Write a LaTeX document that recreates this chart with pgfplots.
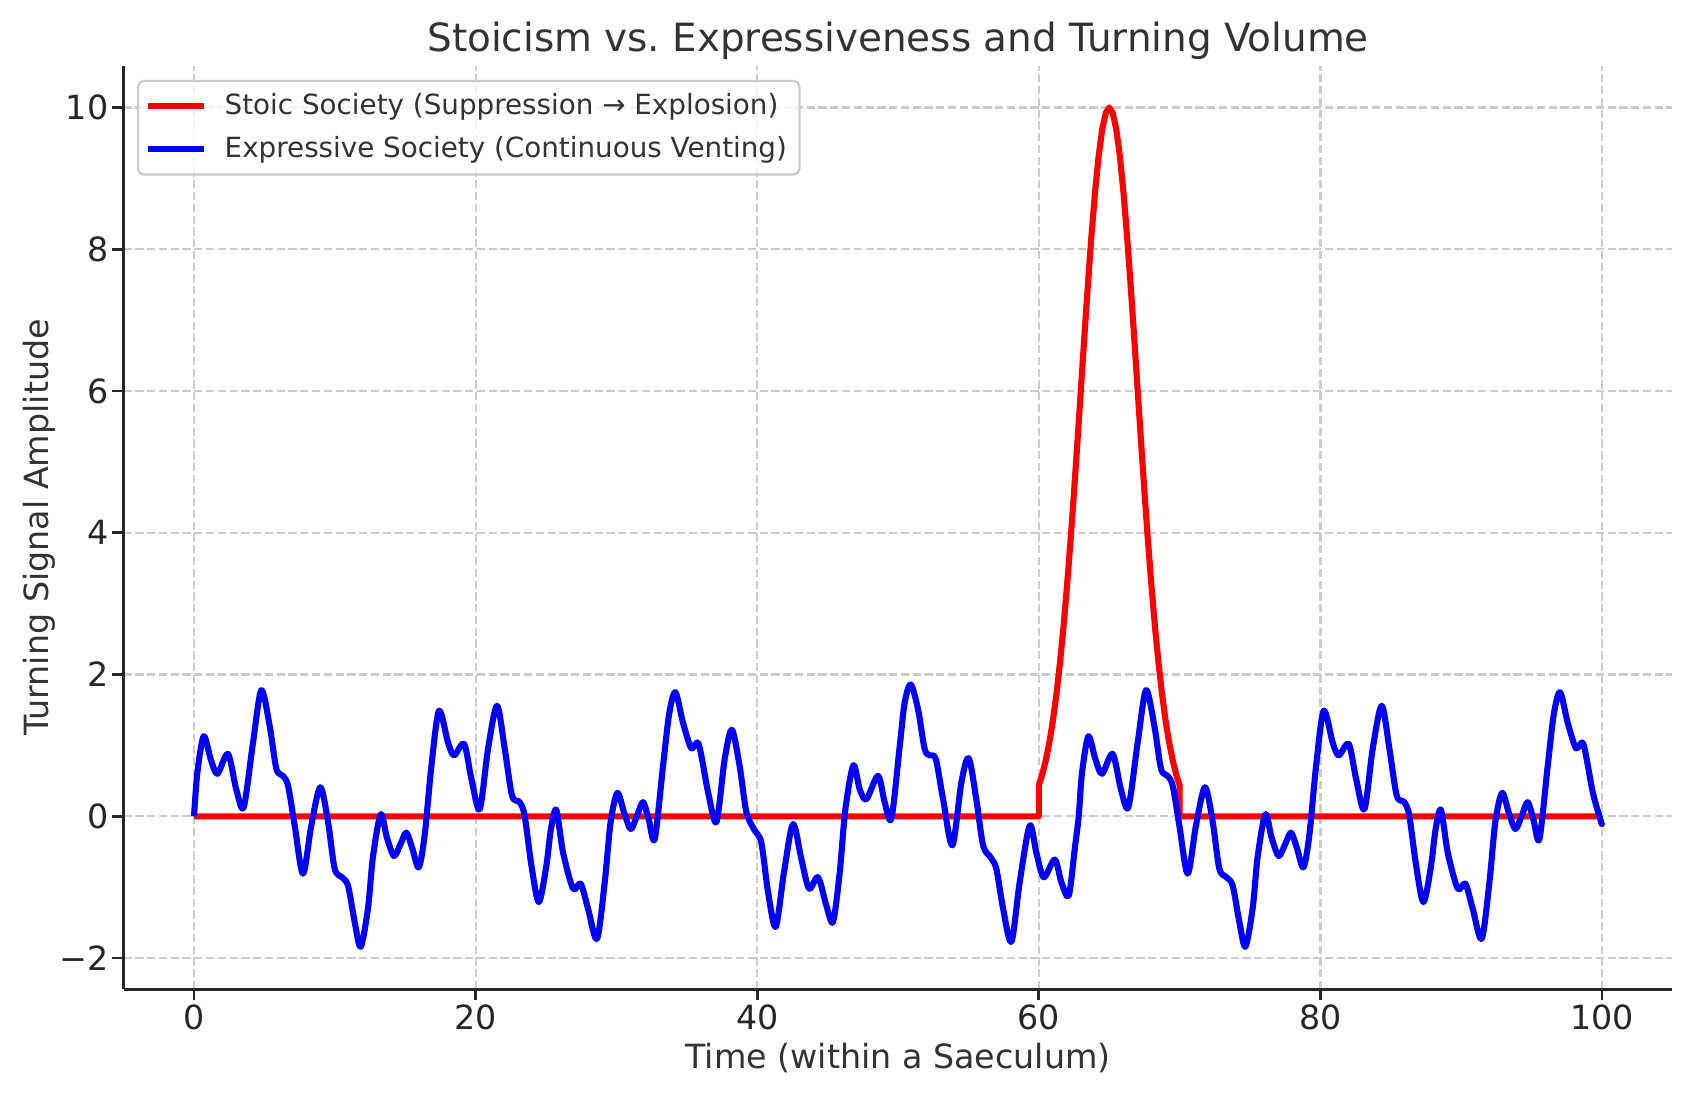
\documentclass[border=0pt]{standalone}
\usepackage{fontspec}
\setmainfont{DejaVu Sans}
\usepackage{pgfplots}
\pgfplotsset{compat=1.18}
\frenchspacing
\definecolor{txt}{HTML}{333333}
\definecolor{spine}{HTML}{262626}
\definecolor{gridc}{HTML}{CCCCCC}
\begin{document}
\begin{tikzpicture}
\begin{axis}[
  at={(0,0)}, anchor=south west,
  scale only axis, width=557.6pt, height=332.5pt,
  xmin=-5, xmax=105, ymin=-2.44, ymax=10.59,
  axis x line*=bottom, axis y line*=left,
  axis line style={spine, line width=1pt},
  xtick={0,20,40,60,80,100}, xticklabels={0,20,40,60,80,100},
  ytick={-2,0,2,4,6,8,10}, yticklabels={−2,0,2,4,6,8,10},
  tick align=outside, major tick length=4pt,
  tick style={spine, line width=1pt},
  minor tick num=0,
  /pgf/number format/assume math mode=true,
  ticklabel style={font=\fontsize{12}{14}\selectfont, text=spine},
  xticklabel style={yshift=2pt},
  yticklabel style={xshift=2pt},
  grid=major,
  major grid style={gridc, line width=0.8pt, dash pattern=on 2.96pt off 1.28pt},
  every axis title shift=0pt,
  title={Stoicism vs.\ Expressiveness and Turning Volume},
  title style={font=\fontsize{14}{17}\selectfont, text=txt, at={(axis description cs:0.5,1)}, anchor=base, yshift=5pt},
  xlabel={Time (within a Saeculum)},
  xlabel style={font=\fontsize{12}{14}\selectfont, text=txt, at={(axis description cs:0.5,0)}, anchor=base, yshift=-28.4pt},
  ylabel={Turning Signal Amplitude},
  ylabel style={font=\fontsize{12}{14}\selectfont, text=txt, at={(axis description cs:-0.0488,0.5)}, anchor=base},
  legend cell align=left,
  legend image code/.code={\draw[#1] (0pt,0pt) -- (20pt,0pt);},
  legend style={font=\fontsize{10}{12}\selectfont, text=txt, draw=gridc, line width=0.8pt,
    rounded corners=2pt, fill=white, fill opacity=0.8, text opacity=1,
    at={(0,1)}, anchor=north west, xshift=4.8pt, yshift=-5.1pt,
    inner xsep=2.5pt, inner ysep=2.5pt, row sep=2.5pt,
    /tikz/every odd column/.append style={column sep=4.5pt}},
]
\addplot[red, line width=2.2pt, line join=round] coordinates {
(0,0) (60,0) (60,0.439) (60.25,0.596) (60.5,0.796) (60.75,1.046) (61,1.353) (61.25,1.724)
(61.5,2.163) (61.75,2.671) (62,3.247) (62.25,3.886) (62.5,4.578) (62.75,5.311) (63,6.065)
(63.25,6.819) (63.5,7.548) (63.75,8.226) (64,8.825) (64.25,9.321) (64.5,9.692) (64.75,9.922)
(65,10) (65.25,9.922) (65.5,9.692) (65.75,9.321) (66,8.825) (66.25,8.226) (66.5,7.548)
(66.75,6.819) (67,6.065) (67.25,5.311) (67.5,4.578) (67.75,3.886) (68,3.247) (68.25,2.671)
(68.5,2.163) (68.75,1.724) (69,1.353) (69.25,1.046) (69.5,0.796) (69.75,0.596) (70,0.439)
(70,0) (100,0)
};
\addlegendentry{Stoic Society (Suppression → Explosion)}
\addplot[blue, line width=2.2pt, smooth, line join=round] coordinates {
(0.00,0.00) (0.24,0.62) (0.69,1.13) (1.18,0.81) (1.66,0.60) (2.41,0.88) (3.00,0.38) (3.53,0.13)
(4.19,1.04) (4.78,1.78) (5.37,1.28) (5.85,0.67) (6.32,0.57) (6.68,0.43) (7.15,-0.13) (7.74,-0.81)
(8.33,-0.13) (8.97,0.41) (9.52,-0.08) (9.99,-0.74) (10.51,-0.86) (10.94,-0.98) (11.41,-1.49)
(11.84,-1.84) (12.36,-1.29) (12.71,-0.57) (13.26,0.03) (13.70,-0.30) (14.20,-0.56) (14.65,-0.40)
(15.08,-0.23) (15.50,-0.45) (15.96,-0.72) (16.38,-0.27) (16.86,0.71) (17.40,1.49) (18.04,1.04)
(18.47,0.86) (19.18,1.02) (19.70,0.53) (20.29,0.10) (20.88,0.95) (21.52,1.56) (22.07,0.95)
(22.59,0.29) (23.13,0.20) (23.48,0.01) (23.96,-0.69) (24.48,-1.21) (25.00,-0.73) (25.35,-0.18)
(25.73,0.09) (26.21,-0.51) (26.92,-1.02) (27.46,-0.95) (27.98,-1.30) (28.62,-1.73) (29.17,-0.93)
(29.59,-0.08) (30.07,0.33) (30.55,0.05) (31.01,-0.18) (31.45,0.00) (31.89,0.20) (32.30,-0.05)
(32.72,-0.32) (33.31,0.71) (33.75,1.45) (34.19,1.75) (34.73,1.32) (35.32,0.96) (35.84,1.02)
(36.51,0.34) (37.10,-0.08) (37.69,0.81) (38.20,1.22) (38.75,0.71) (39.23,0.06) (39.82,-0.20)
(40.29,-0.37) (40.77,-1.07) (41.31,-1.56) (41.90,-0.79) (42.54,-0.11) (43.13,-0.60) (43.68,-1.02)
(44.32,-0.86) (44.91,-1.26) (45.38,-1.49) (45.86,-0.79) (46.26,0.10) (46.83,0.72) (47.28,0.38)
(47.75,0.24) (48.58,0.57) (49.05,0.20) (49.53,-0.03) (50.12,0.99) (50.47,1.60) (50.90,1.86)
(51.42,1.51) (51.89,0.95) (52.25,0.86) (52.68,0.81) (53.20,0.24) (53.86,-0.41) (54.50,0.48)
(55.02,0.82) (55.56,0.24) (56.04,-0.41) (56.58,-0.58) (56.98,-0.74) (57.46,-1.30) (58.05,-1.77)
(58.64,-0.93) (59.35,-0.13) (59.82,-0.51) (60.35,-0.86) (61.13,-0.61) (61.60,-0.93) (62.12,-1.12)
(62.55,-0.46) (62.83,0.00) (63.07,0.62) (63.52,1.13) (64.01,0.81) (64.49,0.60) (65.24,0.88)
(65.83,0.38) (66.36,0.13) (67.02,1.04) (67.61,1.78) (68.20,1.28) (68.68,0.67) (69.15,0.57)
(69.51,0.43) (69.98,-0.13) (70.57,-0.81) (71.16,-0.13) (71.80,0.41) (72.35,-0.08) (72.82,-0.74)
(73.34,-0.86) (73.77,-0.98) (74.24,-1.49) (74.67,-1.84) (75.19,-1.29) (75.54,-0.57) (76.09,0.03)
(76.53,-0.30) (77.03,-0.56) (77.48,-0.40) (77.91,-0.23) (78.33,-0.45) (78.79,-0.72) (79.21,-0.27)
(79.69,0.71) (80.23,1.49) (80.87,1.04) (81.30,0.86) (82.01,1.02) (82.53,0.53) (83.12,0.10)
(83.71,0.95) (84.35,1.56) (84.90,0.95) (85.42,0.29) (85.96,0.20) (86.31,0.01) (86.79,-0.69)
(87.31,-1.21) (87.83,-0.73) (88.18,-0.18) (88.56,0.09) (89.04,-0.51) (89.75,-1.02) (90.29,-0.95)
(90.81,-1.30) (91.45,-1.73) (92.00,-0.93) (92.42,-0.08) (92.90,0.33) (93.38,0.05) (93.84,-0.18)
(94.28,0.00) (94.72,0.20) (95.13,-0.05) (95.55,-0.32) (96.14,0.71) (96.58,1.45) (97.02,1.75)
(97.56,1.32) (98.15,0.96) (98.67,1.02) (99.34,0.34) (99.93,-0.08) (100.00,-0.10)
};
\addlegendentry{Expressive Society (Continuous Venting)}
\end{axis}
\pgfresetboundingbox
\path[use as bounding box] (-44.5pt,-38.8pt) rectangle (565pt,356.15pt);
\end{tikzpicture}
\end{document}
